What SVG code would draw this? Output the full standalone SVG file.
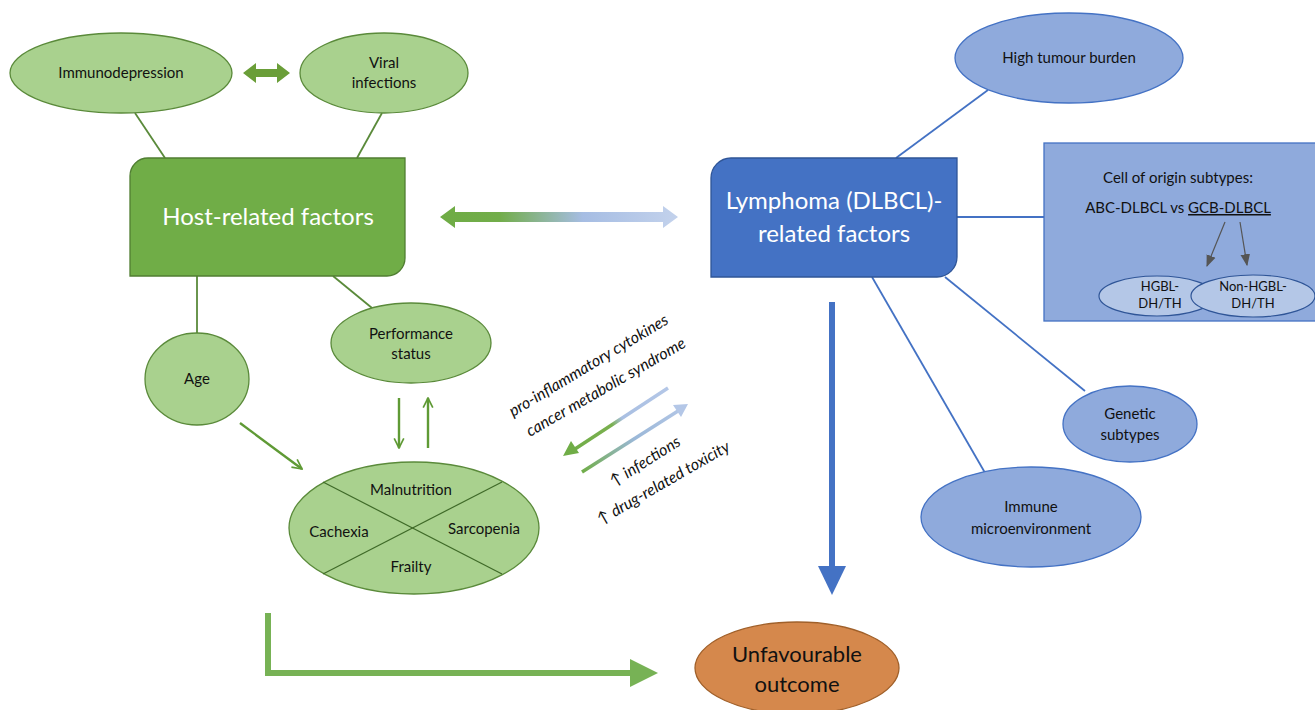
<svg xmlns="http://www.w3.org/2000/svg" width="1315" height="710" viewBox="0 0 1315 710">
<style>
text{font-family:Lato,"Liberation Sans",sans-serif;fill:#111;text-anchor:middle}
.ge{fill:#a9d18e;stroke:#5a8a3a;stroke-width:1.3}
.be{fill:#8faadc;stroke:#4472c4;stroke-width:1.3}
.gl{stroke:#5a8a3a;stroke-width:1.8;fill:none}
.ga{stroke:#5f9a35;stroke-width:2.4;fill:none}
.bl{stroke:#4472c4;stroke-width:1.8;fill:none}
.t15{font-size:15px}
.it{font-size:16px;font-style:italic;text-anchor:start}
.big{font-size:24px;fill:#fff}
</style>
<defs>
<marker id="gh" viewBox="0 0 10 10" refX="9" refY="5" markerWidth="5" markerHeight="5" orient="auto" markerUnits="strokeWidth"><path d="M1,1 L9,5 L1,9" fill="none" stroke="#5f9a35" stroke-width="1.4"/></marker>
<marker id="dh" viewBox="0 0 10 10" refX="9" refY="5" markerWidth="10" markerHeight="10" orient="auto" markerUnits="strokeWidth"><path d="M0,1 L10,5 L0,9 Z" fill="#555"/></marker>
<linearGradient id="hg" x1="440" y1="0" x2="678" y2="0" gradientUnits="userSpaceOnUse"><stop offset="0" stop-color="#6fac45"/><stop offset="0.25" stop-color="#72ad4a"/><stop offset="0.6" stop-color="#a6bde3"/><stop offset="1" stop-color="#c3d2ec"/></linearGradient>
<linearGradient id="g1" x1="668" y1="388" x2="566" y2="455" gradientUnits="userSpaceOnUse"><stop offset="0" stop-color="#b4c7e7"/><stop offset="0.45" stop-color="#a9bfe2"/><stop offset="0.55" stop-color="#7ab04f"/><stop offset="1" stop-color="#70ad47"/></linearGradient>
<linearGradient id="g2" x1="582" y1="472" x2="687" y2="405" gradientUnits="userSpaceOnUse"><stop offset="0" stop-color="#70ad47"/><stop offset="0.5" stop-color="#9bb8d8"/><stop offset="1" stop-color="#b4c7e7"/></linearGradient>
</defs>

<g id="connectors">
<line class="gl" x1="135" y1="113" x2="165" y2="158"/>
<line class="gl" x1="382" y1="113" x2="357" y2="158"/>
<line class="gl" x1="197" y1="276" x2="197" y2="333"/>
<line class="gl" x1="333" y1="276" x2="372" y2="308"/>
<line class="ga" x1="399" y1="398" x2="399" y2="448" marker-end="url(#gh)"/>
<line class="ga" x1="428" y1="448" x2="428" y2="398" marker-end="url(#gh)"/>
<line class="ga" x1="240" y1="423" x2="302" y2="469" marker-end="url(#gh)"/>
<polygon points="243,73 256,63 256,69 277,69 277,63 290,73 277,83 277,77 256,77 256,83" fill="#6a9e38"/>
<polygon points="440,217 455,206 455,212 663,212 663,206 678,217 663,228 663,222 455,222 455,228" fill="url(#hg)"/>
<line x1="668" y1="388" x2="575" y2="449" stroke="url(#g1)" stroke-width="3.5"/>
<polygon points="563,456 571,441 579,453" fill="#70ad47"/>
<line x1="582" y1="472" x2="678" y2="411" stroke="url(#g2)" stroke-width="3.5"/>
<polygon points="688,404 673,405 681,417" fill="#b4c7e7"/>
<line class="bl" x1="896" y1="158" x2="988" y2="90"/>
<line class="bl" x1="957" y1="217" x2="1044" y2="217"/>
<line class="bl" x1="945" y1="277" x2="1085" y2="391"/>
<line class="bl" x1="872" y1="277" x2="988" y2="478"/>
<line x1="832" y1="302" x2="832" y2="568" stroke="#4472c4" stroke-width="6"/>
<polygon points="818,566 846,566 832,595" fill="#4472c4"/>
<polyline points="268,613 268,673 632,673" fill="none" stroke="#77b255" stroke-width="6"/>
<polygon points="630,659 658,673 630,687" fill="#77b255"/>
</g>

<g id="immunodepression"><ellipse class="ge" cx="121" cy="73" rx="111" ry="40"/><text class="t15" x="121" y="78">Immunodepression</text></g>
<g id="viral"><ellipse class="ge" cx="384" cy="73" rx="84" ry="40"/><text class="t15" x="384" y="68">Viral</text><text class="t15" x="384" y="88">infections</text></g>
<g id="host"><path d="M148,158 H405 V258 A18,18 0 0 1 387,276 H130 V176 A18,18 0 0 1 148,158 Z" fill="#70ad47" stroke="#507e32" stroke-width="1.3"/><text class="big" x="268" y="225">Host-related factors</text></g>
<g id="age"><ellipse class="ge" cx="197" cy="379" rx="52" ry="46"/><text class="t15" x="197" y="384">Age</text></g>
<g id="performance"><ellipse class="ge" cx="411" cy="343" rx="80" ry="40"/><text class="t15" x="411" y="339">Performance</text><text class="t15" x="411" y="359">status</text></g>
<g id="malnutrition">
<ellipse class="ge" cx="414" cy="528" rx="125" ry="66"/>
<line x1="323" y1="482" x2="502" y2="574" stroke="#3f6a28" stroke-width="1.2"/>
<line x1="502" y1="482" x2="323" y2="574" stroke="#3f6a28" stroke-width="1.2"/>
<text class="t15" x="411" y="495">Malnutrition</text>
<text class="t15" x="339" y="537">Cachexia</text>
<text class="t15" x="484" y="534">Sarcopenia</text>
<text class="t15" x="411" y="572">Frailty</text>
</g>
<g id="labels">
<text class="it" transform="translate(513,417) rotate(-31)">pro-inflammatory cytokines</text>
<text class="it" transform="translate(530,437) rotate(-30)">cancer metabolic syndrome</text>
<text class="it" transform="translate(614,487) rotate(-32)">↑ infections</text>
<text class="it" transform="translate(601,525) rotate(-30)">↑ drug-related toxicity</text>
</g>
<g id="lymphoma"><path d="M731,158 H957 V257 A20,20 0 0 1 937,277 H711 V178 A20,20 0 0 1 731,158 Z" fill="#4472c4" stroke="#2f5597" stroke-width="1.3"/><text class="big" x="834" y="209">Lymphoma (DLBCL)-</text><text class="big" x="834" y="242">related factors</text></g>
<g id="tumour"><ellipse class="be" cx="1069" cy="58" rx="114" ry="45"/><text class="t15" x="1069" y="63">High tumour burden</text></g>
<g id="cell-origin">
<rect x="1044" y="143" width="275" height="178" fill="#8faadc" stroke="#4472c4" stroke-width="1.3"/>
<text class="t15" x="1178" y="183">Cell of origin subtypes:</text>
<text class="t15" x="1178" y="213">ABC-DLBCL vs <tspan text-decoration="underline">GCB-DLBCL</tspan></text>
<line x1="1225" y1="222" x2="1207" y2="266" stroke="#555" stroke-width="1.2" marker-end="url(#dh)"/>
<line x1="1240" y1="222" x2="1247" y2="265" stroke="#555" stroke-width="1.2" marker-end="url(#dh)"/>
</g>
<g id="hgbl"><ellipse cx="1157" cy="296" rx="58" ry="20" fill="#b4c7e7" stroke="#2f5597" stroke-width="1.2"/><text font-size="13" x="1160" y="291">HGBL-</text><text font-size="13" x="1160" y="308">DH/TH</text></g>
<g id="non-hgbl"><ellipse cx="1253" cy="296" rx="62" ry="21" fill="#b4c7e7" stroke="#2f5597" stroke-width="1.2"/><text font-size="13" x="1253" y="291">Non-HGBL-</text><text font-size="13" x="1253" y="308">DH/TH</text></g>
<g id="genetic"><ellipse class="be" cx="1130" cy="424" rx="67" ry="38"/><text class="t15" x="1130" y="419">Genetic</text><text class="t15" x="1130" y="440">subtypes</text></g>
<g id="immune"><ellipse class="be" cx="1031" cy="517" rx="110" ry="50"/><text class="t15" x="1031" y="512">Immune</text><text class="t15" x="1031" y="534">microenvironment</text></g>
<g id="outcome"><ellipse cx="797" cy="668" rx="102" ry="46" fill="#d5884c" stroke="#a0602a" stroke-width="1.3"/><text font-size="22" x="797" y="662">Unfavourable</text><text font-size="22" x="797" y="692">outcome</text></g>
</svg>
